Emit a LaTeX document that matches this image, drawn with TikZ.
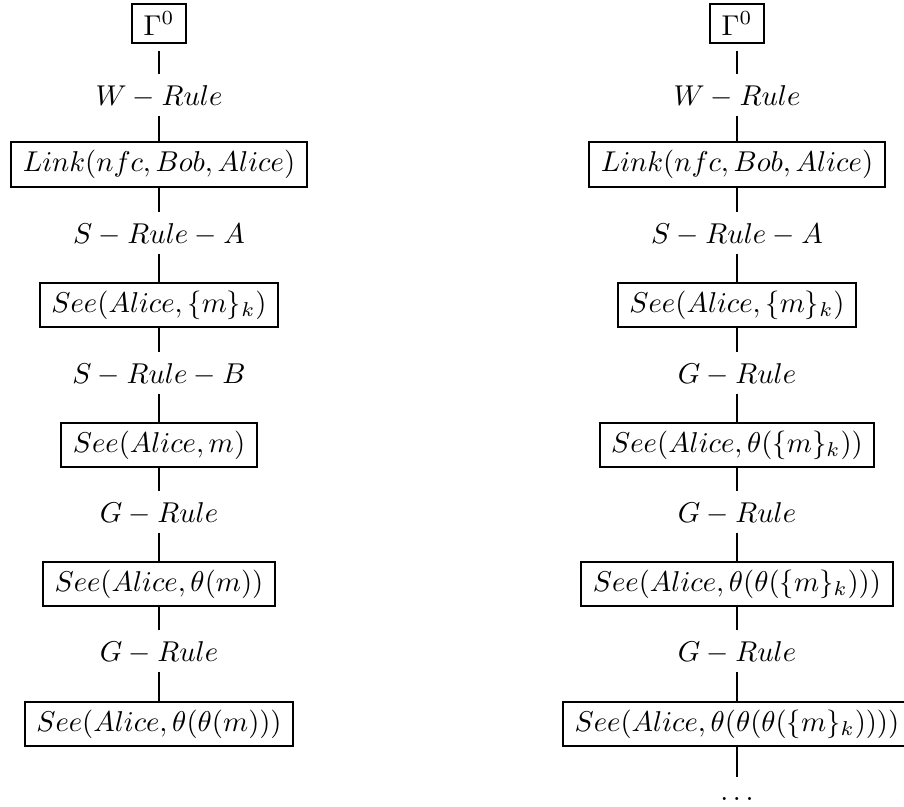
\documentclass[tikz,border=0pt]{standalone}
\begin{document}
\begin{tikzpicture}[x=0.349pt,y=-0.349pt,
  box/.style={draw,line width=0.7pt,inner xsep=4pt,inner ysep=2.8pt},
  rulelbl/.style={inner xsep=2pt,inner ysep=3.5pt,text height=7pt,text depth=0pt},
  conn/.style={line width=0.7pt},
  dotsn/.style={inner xsep=2pt,inner ysep=1.5pt,text height=6.5pt,text depth=0pt,anchor=base}]
\useasboundingbox (0,0) rectangle (904,807);
% left column
\node[box] (l0) at (159,23.5) {$\Gamma^0$};
\node[rulelbl] (lr1) at (159,95) {$W-Rule$};
\node[box] (l1) at (159,164.5) {$Link(nfc, Bob, Alice)$};
\node[rulelbl] (lr2) at (159,233) {$S-Rule-A$};
\node[box] (l2) at (159,305) {$See(Alice, \{m\}_k)$};
\node[rulelbl] (lr3) at (159,373) {$S-Rule-B$};
\node[box] (l3) at (159,445) {$See(Alice, m)$};
\node[rulelbl] (lr4) at (159,512) {$G-Rule$};
\node[box] (l4) at (159,584) {$See(Alice, \theta(m))$};
\node[rulelbl] (lr5) at (159,651) {$G-Rule$};
\node[box] (l5) at (159,724) {$See(Alice, \theta(\theta(m)))$};
\draw[conn,shorten <=2.45pt] (l0) -- (lr1);
\draw[conn] (lr1) -- (l1);
\draw[conn] (l1) -- (lr2);
\draw[conn] (lr2) -- (l2);
\draw[conn] (l2) -- (lr3);
\draw[conn] (lr3) -- (l3);
\draw[conn] (l3) -- (lr4);
\draw[conn] (lr4) -- (l4);
\draw[conn] (l4) -- (lr5);
\draw[conn] (lr5) -- (l5);
% right column
\node[box] (r0) at (737,23.5) {$\Gamma^0$};
\node[rulelbl] (rr1) at (737,95) {$W-Rule$};
\node[box] (r1) at (737,164.5) {$Link(nfc, Bob, Alice)$};
\node[rulelbl] (rr2) at (737,233) {$S-Rule-A$};
\node[box] (r2) at (737,305) {$See(Alice, \{m\}_k)$};
\node[rulelbl] (rr3) at (737,373) {$G-Rule$};
\node[box] (r3) at (737,445) {$See(Alice, \theta(\{m\}_k))$};
\node[rulelbl] (rr4) at (737,512) {$G-Rule$};
\node[box] (r4) at (737,584) {$See(Alice, \theta(\theta(\{m\}_k)))$};
\node[rulelbl] (rr5) at (737,651) {$G-Rule$};
\node[box] (r5) at (737,724) {$See(Alice, \theta(\theta(\theta(\{m\}_k))))$};
\node[dotsn] (rd) at (737,800) {$\ldots$};
\draw[conn,shorten <=2.45pt] (r0) -- (rr1);
\draw[conn] (rr1) -- (r1);
\draw[conn] (r1) -- (rr2);
\draw[conn] (rr2) -- (r2);
\draw[conn] (r2) -- (rr3);
\draw[conn] (rr3) -- (r3);
\draw[conn] (r3) -- (rr4);
\draw[conn] (rr4) -- (r4);
\draw[conn] (r4) -- (rr5);
\draw[conn] (rr5) -- (r5);
\draw[conn] (r5) -- (rd);
\end{tikzpicture}
\end{document}
